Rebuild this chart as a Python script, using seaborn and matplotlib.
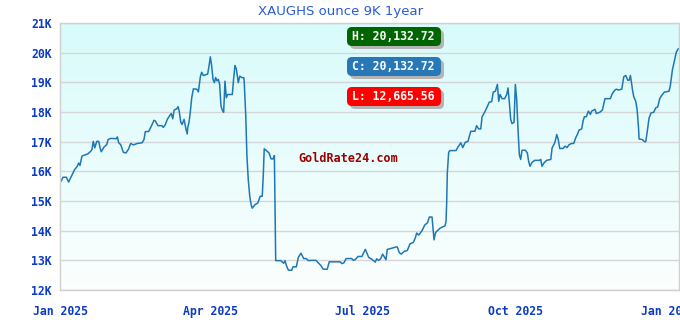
import numpy as np
import pandas as pd
import matplotlib
matplotlib.use("Agg")
import matplotlib.pyplot as plt
import matplotlib.transforms as mtransforms
from matplotlib.patches import FancyBboxPatch
from matplotlib.colors import LinearSegmentedColormap
import seaborn as sns

# ---------------- data ----------------
title = "XAUGHS ounce 9K 1year"
start_date = "2025-01-01"

day_offsets = [
    0.0, 1.2, 3.2, 4.6, 6.2, 8.2, 9.8, 10.6, 11.4, 12.6, 13.8, 16.2, 17.9, 18.6, 19.4, 20.3,
    21.5, 22.7, 23.5, 24.2, 25.9, 27.5, 28.3, 29.9, 33.3, 33.9, 34.7, 35.9, 37.5, 39.1, 40.7,
    41.9, 43.5, 45.9, 48.7, 49.9, 50.7, 52.7, 54.3, 55.9, 56.7, 58.3, 60.7, 61.5, 62.7, 63.9,
    65.4, 66.3, 67.2, 68.0, 69.6, 70.4, 71.1, 72.0, 72.8, 74.0, 75.2, 75.9,
    76.2, 77.0, 77.8, 78.6, 79.6, 81.6, 82.6, 83.8, 84.6, 85.6, 88.2, 89.0, 89.8, 90.6, 91.4,
    92.2, 93.0, 93.8, 94.6, 95.4, 96.2, 97.0, 97.8, 98.6, 99.4, 100.2, 103.0, 103.8, 104.6,
    105.4, 106.6, 107.5, 108.7, 109.9, 110.2, 111.1, 111.8, 112.6, 113.5, 114.3, 115.0, 116.7,
    118.3, 119.8, 121.0, 121.6, 122.2, 123.9, 125.1, 126.3, 127.5, 128.3, 128.7, 129.1, 132.3,
    133.9, 134.7, 135.5, 136.7, 138.7, 139.5, 141.5, 142.7, 144.3, 145.9, 147.5, 148.7,
    150.8, 153.3, 154.7, 156.2, 157.7, 160.1, 161.3, 167.8, 169.0, 170.2, 171.4, 174.8, 175.8,
    177.0, 178.6, 181.0, 181.8, 183.0, 183.8, 185.0, 187.0, 189.0, 189.8, 191.0, 192.2, 193.4,
    194.6, 195.4, 196.2, 197.8, 201.4, 202.2, 203.4, 204.6, 206.3, 208.2, 209.9, 211.8, 213.0,
    213.9, 215.1, 217.1, 218.7, 220.3, 221.5, 223.1, 223.9, 224.3, 225.1, 226.3, 227.9, 229.5,
    230.9, 231.5, 231.9, 232.3, 233.1, 233.9, 237.5, 238.7, 240.4, 241.6, 243.1, 244.7, 246.4,
    248.9, 249.9, 251.1, 252.4, 253.2, 254.8, 256.0, 257.5, 259.0, 259.9, 261.2, 262.4, 263.2,
    264.0, 265.2, 266.8, 268.0, 268.8, 269.6, 270.4, 271.2, 272.4, 273.2, 274.0, 274.8, 275.6,
    276.4, 277.2, 279.2, 280.4, 281.2, 282.0, 283.2, 284.8, 287.6, 288.5, 289.2, 290.4, 292.0,
    294.5, 295.3, 296.9, 298.1, 299.0, 299.9, 301.9, 303.1, 304.3, 305.5, 307.1, 308.3, 309.5,
    310.7, 311.5, 313.1, 313.9, 314.7, 315.9, 317.1, 318.3, 319.1, 321.1, 321.9, 323.9, 325.5,
    327.1, 327.9, 330.3, 331.5, 333.1, 333.9, 335.1, 337.2, 338.4, 339.6, 340.8, 341.6, 342.4,
    343.6, 344.4, 345.6, 346.4, 347.2, 347.6, 349.6, 350.8, 351.6, 352.4, 353.6, 354.8, 356.4,
    357.6, 358.8, 360.0, 361.2, 362.8, 365.6, 366.4, 367.6, 368.8, 370.0, 371.2,
]

prices = [
    15660, 15800, 15800, 15640, 15830, 16060, 16170, 16280, 16200, 16510, 16540, 16590, 16680, 16730, 17010, 16790,
    17010, 17010, 16790, 16660, 16820, 16900, 17070, 17110, 17100, 17160, 16960, 16900, 16640, 16620, 16760,
    16940, 16890, 16940, 16960, 17070, 17340, 17340, 17520, 17720, 17700, 17540, 17540, 17480, 17570, 17750,
    17880, 17950, 17770, 18060, 18110, 18180, 18020, 17660, 17580, 17750, 17410, 17260,
    17470, 17660, 18030, 18480, 18780, 18770, 18680, 19190, 19340, 19230, 19280, 19550, 19860, 19550, 19100,
    18990, 19160, 19050, 19100, 18930, 18200, 18060, 17990, 19040, 18480, 18590, 18590, 19120, 19570,
    19460, 18990, 19210, 19160, 19160, 18990, 17860, 16510, 15720, 15160, 14880, 14760, 14880,
    14930, 15160, 15160, 15830, 16760, 16680, 16620, 16420, 16420, 16530, 14730, 12990, 12990,
    12900, 12990, 12830, 12670, 12665.56, 12780, 12780, 13100, 13240, 13060, 13060, 12990,
    13000, 13000, 12920, 12830, 12700, 12700, 12950, 12950, 12890, 12920, 13060, 13060, 13000,
    13030, 13130, 13130, 13240, 13370, 13260, 13100, 13030, 12940, 13050, 13000, 13050, 13210,
    13100, 13020, 13370, 13390, 13450, 13450, 13260, 13210, 13300, 13330, 13560, 13600, 13750,
    13920, 13850, 14000, 14190, 14260, 14460, 14460, 13960, 13690, 13920, 14000, 14080, 14130,
    14160, 14300, 14930, 15950, 16640, 16700, 16700, 16820, 16960, 16800, 16980, 17010, 17350,
    17350, 17540, 17430, 17430, 17840, 18000, 18140, 18330, 18350, 18670, 18700, 18930, 18360,
    18590, 18450, 18450, 18590, 18810, 18310, 17750, 17610, 17650, 18930, 18420, 17410, 16560,
    16400, 16710, 16710, 16620, 16340, 16170, 16300, 16370, 16370, 16400, 16170, 16280, 16370,
    16400, 16790, 16960, 17240, 17070, 16770, 16770, 16850, 16800, 16900, 16940, 16940, 17130,
    17270, 17390, 17430, 17690, 17840, 17840, 18030, 17920, 18030, 18090, 17950, 17990, 18060,
    18450, 18450, 18450, 18620, 18740, 18770, 18740, 18770, 19190, 19230, 19070, 19070, 19230,
    18760, 18510, 18360, 18090, 17520, 17090, 17070, 17000, 17000, 17300, 17800, 17970, 17990,
    18140, 18170, 18450, 18560, 18670, 18700, 18890, 19410, 19720, 20020, 20132.72,
]

y_ticks = [12000, 13000, 14000, 15000, 16000, 17000, 18000, 19000, 20000, 21000]
y_tick_labels = ["12K", "13K", "14K", "15K", "16K", "17K", "18K", "19K", "20K", "21K"]
x_tick_dates = ["2025-01-01", "2025-04-01", "2025-07-01", "2025-10-01", "2026-01-01"]
x_tick_labels = ["Jan 2025", "Apr 2025", "Jul 2025", "Oct 2025", "Jan 2026"]

stat_labels = ["H:", "C:", "L:"]
stat_values = [20132.72, 20132.72, 12665.56]
stat_colors = ["#006400", "#2878b8", "#ff0000"]
watermark = "GoldRate24.com"

# ---------------- figure ----------------
sns.set_theme(style="white")
plt.rcParams["font.family"] = ["DejaVu Sans"]

W, H = 680, 320
fig = plt.figure(figsize=(W / 100, H / 100), dpi=100)
fig.patch.set_facecolor("white")

rect = [60 / W, 30 / H, 619 / W, 267 / H]

# gradient background
bg = fig.add_axes(rect, zorder=0)
cmap = LinearSegmentedColormap.from_list("bg", ["#fbfffe", "#d8fbfb"])
grad = np.linspace(0, 1, 256).reshape(-1, 1)
bg.imshow(grad, cmap=cmap, aspect="auto", origin="lower", extent=[0, 1, 0, 1])
bg.set_axis_off()

ax = fig.add_axes(rect, zorder=1)
ax.patch.set_alpha(0)

dates = pd.to_datetime(start_date) + pd.to_timedelta(day_offsets, unit="D")
df = pd.DataFrame({"date": dates, "price": prices})
sns.lineplot(data=df, x="date", y="price", ax=ax, color="#1f77b4", linewidth=1.1)

start = pd.to_datetime(start_date)
ax.set_xlim(start - pd.Timedelta(days=0.6), start + pd.Timedelta(days=371.6))
ax.set_ylim(12000, 21000)

ax.set_yticks(y_ticks)
ax.set_yticklabels(y_tick_labels)
ax.set_xticks(pd.to_datetime(x_tick_dates))
ax.set_xticklabels(x_tick_labels)
ax.set_xlabel("")
ax.set_ylabel("")

tick_color = "#0b3cc1"
ax.tick_params(axis="both", length=0, colors=tick_color)
ax.tick_params(axis="x", pad=11)
ax.tick_params(axis="y", pad=6)
for lbl in ax.get_xticklabels() + ax.get_yticklabels():
    lbl.set_fontfamily("DejaVu Sans Mono")
    lbl.set_fontweight("bold")
    lbl.set_fontsize(8.3)

ax.yaxis.grid(True, color="#d6d6d6", linewidth=1)
ax.xaxis.grid(False)
ax.set_axisbelow(True)
for s in ax.spines.values():
    s.set_color("#d0d0d0")
    s.set_linewidth(1)

fig.text(341 / W, 1 - 11 / H, title, ha="center", va="center",
         color="#2a5bd7", fontsize=9.5, family="DejaVu Sans")

# stat boxes
ident = mtransforms.IdentityTransform()
box_x0, box_w, box_h = 347, 94, 19
box_tops = [27, 57, 87]
for lab, val, col, top in zip(stat_labels, stat_values, stat_colors, box_tops):
    y0 = H - top - box_h
    shadow = FancyBboxPatch((box_x0 + 3, y0 - 3), box_w, box_h,
                            boxstyle="round,pad=0,rounding_size=5",
                            transform=ident, facecolor="#b4b4b4", edgecolor="none")
    box = FancyBboxPatch((box_x0, y0), box_w, box_h,
                         boxstyle="round,pad=0,rounding_size=5",
                         transform=ident, facecolor=col, edgecolor="none")
    fig.patches.extend([shadow, box])
    fig.text((box_x0 + box_w / 2 - 1) / W, (y0 + box_h / 2) / H, f"{lab} {val:,.2f}",
             ha="center", va="center", color="white", fontsize=8.3,
             fontweight="bold", family="DejaVu Sans Mono")

fig.text(348 / W, 1 - 158 / H, watermark, ha="center", va="center",
         color="#990000", fontsize=8.5, fontweight="bold", family="DejaVu Sans Mono",
         zorder=5)

fig.savefig("out.png", dpi=100)
